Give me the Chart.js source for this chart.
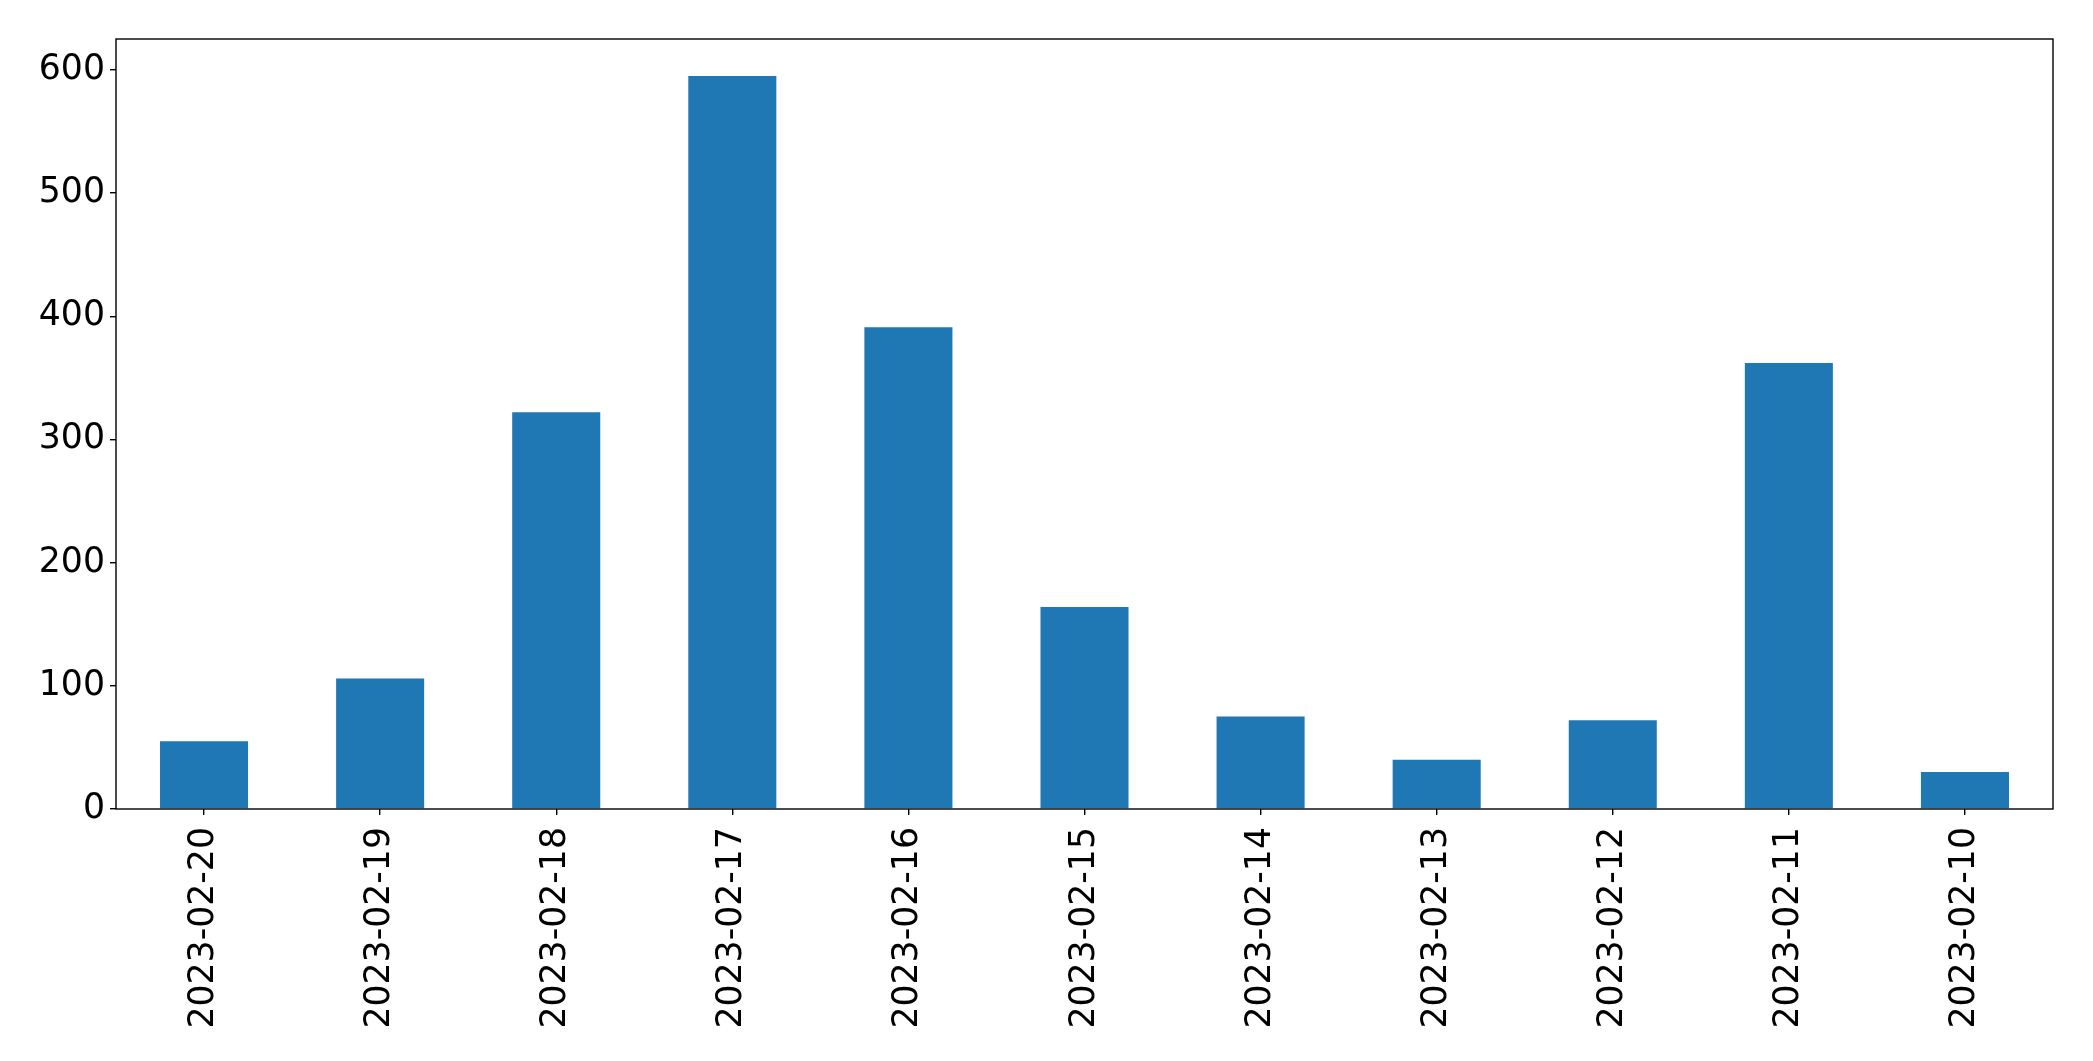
<!DOCTYPE html>
<html>
<head>
<meta charset="utf-8">
<script src="https://cdn.jsdelivr.net/npm/chart.js@4/dist/chart.umd.min.js"></script>
<style>
    body { margin: 0; background: #fff; }
    #CHART { display: block; }
</style>
</head>
<body>
<canvas id="CHART" width="2093" height="1061"></canvas>
<script>
// values
const dates = ['2023-02-20', '2023-02-19', '2023-02-18', '2023-02-17', '2023-02-16', '2023-02-15',
    '2023-02-14', '2023-02-13', '2023-02-12', '2023-02-11', '2023-02-10'];
const counts = [55, 106, 322, 595, 391, 164, 75, 40, 72, 362, 30];
const yTicks = [0, 100, 200, 300, 400, 500, 600];
const yMax = 625;

const barColor = '#1f77b4';
const fontColor = '#000000';

// matplotlib style box round the plot area
const framePlugin = {
    id: 'frame',
    afterDraw(chart) {
        let ctx = chart.ctx;
        let a = chart.chartArea;
        ctx.save();
        ctx.strokeStyle = '#000';
        ctx.lineWidth = 1.4;
        ctx.strokeRect(a.left, a.top, a.right - a.left, a.bottom - a.top);
        ctx.restore();
    }
};

let chartHtml = document.getElementById('CHART').getContext('2d');

let chart = new Chart(chartHtml, {
    type: 'bar',
    data: {
        labels: dates,
        datasets: [{
            data: counts,
            backgroundColor: barColor,
            barPercentage: 0.5,
            categoryPercentage: 1.0,
        }]
    },
    options: {
        responsive: false,
        animation: false,
        layout: {
            padding: { top: 39, right: 40, left: 0, bottom: 0 }
        },
        plugins: {
            legend: { display: false },
            tooltip: { enabled: false }
        },
        scales: {
            x: {
                offset: true,
                border: { display: false },
                grid: {
                    offset: false,
                    drawOnChartArea: false,
                    drawTicks: true,
                    tickLength: 6,
                    color: '#000',
                    lineWidth: 1.4
                },
                ticks: {
                    color: fontColor,
                    font: { family: 'DejaVu Sans', size: 34.7 },
                    minRotation: 90,
                    maxRotation: 90,
                    autoSkip: false,
                    padding: 12
                },
                afterFit: (scale) => { scale.height = 252; }
            },
            y: {
                min: 0,
                max: yMax,
                border: { display: false },
                grid: {
                    drawOnChartArea: false,
                    drawTicks: true,
                    tickLength: 6,
                    color: '#000',
                    lineWidth: 1.4
                },
                ticks: {
                    stepSize: 100,
                    color: fontColor,
                    font: { family: 'DejaVu Sans', size: 34.7 },
                    padding: 5
                },
                afterBuildTicks: (scale) => {
                    scale.ticks = yTicks.map(v => ({ value: v }));
                },
                afterFit: (scale) => { scale.width = 116; }
            }
        }
    },
    plugins: [framePlugin]
});
</script>
</body>
</html>
